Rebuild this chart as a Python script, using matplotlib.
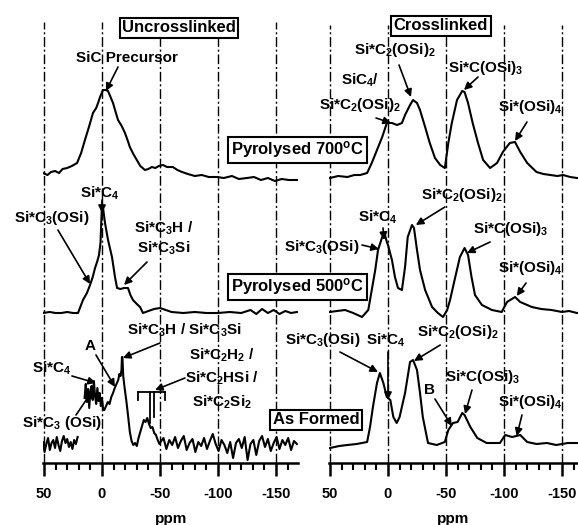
import matplotlib
matplotlib.use("Agg")
import numpy as np
import matplotlib.pyplot as plt

plt.rcParams.update({
    "font.family": ["Liberation Sans", "DejaVu Sans"],
    "font.weight": "bold",
    "mathtext.fontset": "custom",
    "mathtext.rm": "Liberation Sans:bold",
    "mathtext.it": "Liberation Sans:bold",
    "mathtext.bf": "Liberation Sans:bold",
    "mathtext.default": "rm",
})

# ---- spectra (ppm, intensity above own baseline) ---------------------------
# uncrosslinked, pyrolysed 700 C
LT_PPM = [51, 47, 44, 40.5, 37, 34, 30, 26, 21.5, 18,
          14.7, 11, 7.8, 5, 3.4, 1.7, -0.9, -3, -5.2, -7,
          -9.5, -11.5, -13.8, -17, -19.8, -22, -24, -27, -30, -33,
          -37, -40, -43, -46, -49, -52.6, -56, -61, -65, -69,
          -74, -80, -86, -92, -99, -105, -112, -118, -125, -131,
          -137, -143, -149, -155, -161, -168]
LT_INT = [5, 3, 6, 7, 5, 9, 10, 12, 15, 25,
          38, 52, 65, 70, 75, 81, 88, 88, 87, 82,
          75, 67, 58, 52, 45, 38, 31, 24, 18, 12,
          8, 9, 11, 10, 12, 13, 11, 11, 8, 6,
          4, 2, 3, 1, 1, 0, 2, -1, 0, 1,
          -2, 0, -3, -1, -2, -2]

# uncrosslinked, pyrolysed 500 C
LM_PPM = [51, 45, 40, 35, 30, 25, 20.7,
          16.4, 13, 10.3, 8, 6, 4, 2.6, 1.3, 0.5, 0,
          -0.9, -2.6, -5.2, -8.6, -11.2, -13, -16, -19, -22.4, -24.5,
          -26.7, -30, -32.8, -35.3, -40, -45, -50, -55, -60, -70,
          -80, -90, -100, -110, -120, -128, -133, -138, -143, -148,
          -153, -158, -163, -168]
LM_INT = [0, 1, 0, 0, 1, 0, 0,
          13, 20, 28, 36, 45, 52, 58, 70, 95, 110,
          105, 90, 73, 56, 36, 25, 24, 25, 25, 18,
          13, 9, 6, 0, 2, 4, 5, 3, 1, 0,
          1, 0, 0, 1, 0, 3, -1, 4, 0, 3,
          -1, 2, 0, 1]

# uncrosslinked, as formed (noisy)
LB_PPM = [51, 49.5, 48, 46.5, 45, 43.5, 42, 40.5, 39, 37.5,
          36, 34.5, 33, 31.5, 30, 28.5, 27, 25.5, 24, 22.5, 21,
          20,
          15, 14, 13, 12, 11, 10, 9, 8, 7, 6, 5, 4, 3, 2, 1, 0, -1,
          -2, -3.5, -5, -6.5, -8, -9.5, -11, -12.5, -14, -15,
          -16, -16.8, -17.2, -17.6, -18.3, -19.5, -21, -22.5, -24, -25.5,
          -27, -28.5, -30, -31.5, -33, -34.5, -36, -37.5, -39, -40.5,
          -42, -43.5, -45, -46.5, -48, -49.5, -51,
          -53, -55.5, -58, -60.5, -63, -65.5, -68, -70.5, -73, -75.5,
          -78, -80.5, -83, -85.5, -88, -90.5, -93, -95.5, -98, -100.5,
          -103, -105.5, -108, -110.5, -113, -115.5, -118, -120.5, -123, -125.5,
          -128, -130.5, -133, -135.5, -138, -140.5, -143, -145.5, -148, -150.5,
          -153, -155.5, -158, -160.5, -163, -165.5, -168]
LB_INT = [4, -6, 2, 8, -4, 3, 6, -2, 9, 1,
          -5, 5, 10, 3, 7, -1, 4, -3, 6, 2, 9,
          np.nan,
          48, 62, 44, 57, 38, 55, 60, 46, 65, 50, 42, 58, 45, 53, 40, 48, 36,
          36, 40, 44, 42, 49, 53, 58, 62, 66, 72,
          70, 76, 89, 89, 70, 58, 45, 30, 14, 5,
          1, 3, 0, 8, 14, 20, 26, 24, 28, 22,
          18, 19, 13, 11, 6, 2, 5,
          8, -3, 6, 1, 9, -2, 5, 10, -4, 3,
          7, -6, 4, 0, 8, -3, 5, 12, 2, -5,
          6, 1, -7, 4, -12, 3, 7, -2, 9, -14,
          2, 6, -9, 5, 10, -1, 7, -5, 3, 9,
          -3, 6, 1, 8, -4, 5, 2]

# crosslinked, pyrolysed 700 C
RT_PPM = [50, 43, 35, 29, 24, 18, 14, 9.5, 5, 1,
          -3.4, -7.8, -12, -14.7, -19, -21.6, -25, -27.6, -32, -36,
          -40.5, -45, -49, -52, -55, -59.5, -64, -66, -69, -73,
          -77.6, -82, -88, -94, -99, -105, -109.5, -114, -120, -128,
          -134, -140, -146, -151, -157, -163]
RT_INT = [0, 2, 1, 3, 3, 5, 15, 28, 41, 55,
          55, 53, 55, 63, 73, 78, 75, 68, 51, 35,
          20, 13, 10, 35, 55, 78, 87, 86, 75, 55,
          35, 18, 10, 15, 26, 35, 36, 26, 15, 6,
          4, 3, 2, 3, 1, 0]

# crosslinked, pyrolysed 500 C
RM_PPM = [50, 44, 37, 30, 22.4, 17, 14, 11, 8.6, 5,
          2.6, 1, 0, -3.4, -6, -8.6, -12, -14.7, -17, -20.7,
          -22.4, -25, -27.6, -32, -38, -43, -47.5, -51, -53.5, -58,
          -62, -66, -69, -72, -75, -81, -89.6, -98, -102.6, -109.5,
          -114, -124, -132, -141, -150, -156, -163]
RM_INT = [1, 2, 3, 0, -4, 3, 23, 43, 63, 76,
          78, 71, 68, 53, 36, 25, 23, 46, 76, 88,
          85, 63, 43, 23, 6, 0, -4, 3, 13, 36,
          56, 65, 58, 36, 18, 8, 3, 1, 11, 16,
          11, 6, 4, 3, 1, 2, 0]

# crosslinked, as formed
RB_PPM = [50, 42, 35, 27, 18, 15.5, 13, 9.5, 7, 4,
          1, -2, -4.6, -7.5, -10, -14.7, -19, -21.6, -25, -27.6,
          -30, -34.5, -42, -49, -52, -56, -60, -64, -66, -71,
          -77, -85, -96.5, -101, -107, -114, -120, -128, -137, -145,
          -155, -163]
RB_INT = [-2, 0, 1, 2, 4, 19, 39, 63, 73, 63,
          49, 46, 29, 23, 29, 53, 84, 86, 76, 53,
          29, 3, 1, 4, 16, 23, 24, 33, 31, 19,
          8, 3, 3, 11, 9, 11, 4, 2, 3, 1,
          3, 3]

OFFSETS = {"700": 285, "500": 150, "formed": 17}
MAJOR = [50, 0, -50, -100, -150]
MAJOR_LABELS = ["50", "0", "-50", "-100", "-150"]
MINOR = [40, 30, 20, 10, -10, -20, -30, -40, -60, -70, -80, -90,
         -110, -120, -130, -140, -160]

# stick marks for Si*C2H2 / Si*C2HSi / Si*C2Si2 (as formed, uncrosslinked)
STICK_PPM = [-31, -41.4, -44.8, -54.3]
STICK_LEN = [8, 31, 25, 8]

W, H = 578, 525
PPM_PX = 1.16
AX_BOTTOM = 463   # pixel row of x axis
fig = plt.figure(figsize=(W / 100, H / 100), dpi=100)


def make_panel(zero_px, lo, hi, top):
    x0 = zero_px - lo * PPM_PX
    x1 = zero_px - hi * PPM_PX
    ax = fig.add_axes([x0 / W, (H - AX_BOTTOM) / H, (x1 - x0) / W, AX_BOTTOM / H])
    ax.set_xlim(lo, hi)
    ax.set_ylim(0, AX_BOTTOM)
    for s in ("left", "right", "top"):
        ax.spines[s].set_visible(False)
    ax.spines["bottom"].set_linewidth(1.8)
    ax.set_yticks([])
    ax.set_xticks(MAJOR)
    ax.set_xticklabels(MAJOR_LABELS, fontsize=10.5, fontweight="bold")
    ax.set_xticks(MINOR, minor=True)
    ax.tick_params(axis="x", which="major", length=9, width=1.8, pad=8)
    ax.tick_params(axis="x", which="minor", length=5, width=1.5)
    ax.set_xlabel("ppm", fontsize=11, fontweight="bold", labelpad=8)
    ax.vlines(MAJOR, 0, top, colors="black", lw=1.0,
              linestyles=(0, (7, 2, 1.5, 2)), zorder=1)
    return ax


def trace(ax, ppm, inten, key):
    ax.plot(ppm, np.array(inten, dtype=float) + OFFSETS[key], color="black",
            lw=1.5, zorder=3)


def label(ax, x, y, s, size=11):
    ax.text(x, y, s, ha="center", va="center", fontsize=size, zorder=5,
            clip_on=False)


def arrow(ax, p0, p1):
    ax.annotate("", xy=p1, xytext=p0, annotation_clip=False,
                arrowprops=dict(arrowstyle="-|>", color="black", lw=1.2,
                                mutation_scale=11, shrinkA=0, shrinkB=0))


# ---- left: uncrosslinked ----
axl = make_panel(102, 50.5, -169, 441)
trace(axl, LT_PPM, LT_INT, "700")
trace(axl, LM_PPM, LM_INT, "500")
trace(axl, LB_PPM, LB_INT, "formed")

label(axl, -21.5, 405, "SiC Precursor")
arrow(axl, (-13.8, 396), (-3.4, 372))
label(axl, 1.7, 270, "Si*C$_4$")
arrow(axl, (0, 263), (0, 250))
label(axl, 43, 245, "Si*C$_3$(OSi)")
arrow(axl, (38, 233), (10.3, 179))
label(axl, -53.4, 235, "Si*C$_3$H /")
label(axl, -53.4, 215, "Si*C$_3$Si")
arrow(axl, (-38.8, 201), (-19, 178))

label(axl, -70.7, 133, "Si*C$_3$H / Si*C$_3$Si")
arrow(axl, (-50, 120), (-18, 105))
label(axl, 10.3, 117, "A")
arrow(axl, (5.2, 108), (-11.2, 76))
label(axl, -103.4, 108, "Si*C$_2$H$_2$ /")
label(axl, -103.4, 85, "Si*C$_2$HSi /")
label(axl, -103.4, 61, "Si*C$_2$Si$_2$")
arrow(axl, (-71.5, 85), (-45.7, 73))
label(axl, 43, 95, "Si*C$_4$")
arrow(axl, (25.9, 87), (5.2, 80))
label(axl, 34.5, 40, "Si*C$_3$ (OSi)")
arrow(axl, (22.4, 48), (7.8, 73))

axl.plot([STICK_PPM[0], STICK_PPM[-1]], [71, 71], color="black", lw=1.3)
for p, ln in zip(STICK_PPM, STICK_LEN):
    axl.plot([p, p], [71, 71 - ln], color="black", lw=1.3)

# ---- right: crosslinked ----
axr = make_panel(388, 50.5, -163.5, 438)
trace(axr, RT_PPM, RT_INT, "700")
trace(axr, RM_PPM, RM_INT, "500")
trace(axr, RB_PPM, RB_INT, "formed")

label(axr, -6, 413, "Si*C$_2$(OSi)$_2$")
arrow(axr, (-9.5, 398), (-19.8, 366))
label(axr, 24, 383, "SiC$_4$/")
label(axr, 24, 358, "Si*C$_2$(OSi)$_2$")
arrow(axr, (10.3, 345), (-2.6, 340))
label(axr, -84.5, 395, "Si*C(OSi)$_3$")
arrow(axr, (-77.6, 386), (-65.5, 373))
label(axr, -122.4, 356, "Si*(OSi)$_4$")
arrow(axr, (-119.8, 341), (-109.5, 322))

label(axr, -63.8, 268, "Si*C$_2$(OSi)$_2$")
arrow(axr, (-49, 256), (-24, 238))
label(axr, 8.6, 246, "Si*C$_4$")
arrow(axr, (4.3, 235), (3.4, 223))
label(axr, 57, 216, "Si*C$_3$(OSi)")
arrow(axr, (22.4, 218), (7.8, 214))
label(axr, -106, 234, "Si*C(OSi)$_3$")
arrow(axr, (-88, 221), (-68, 210))
label(axr, -122.4, 195, "Si*(OSi)$_4$")
arrow(axr, (-119, 180), (-111, 167))

label(axr, 56, 123, "Si*C$_3$(OSi)")
arrow(axr, (41.4, 111), (8.6, 91))
label(axr, 1.7, 123, "Si*C$_4$")
arrow(axr, (0, 111), (0, 63))
label(axr, -60, 131, "Si*C$_2$(OSi)$_2$")
arrow(axr, (-45, 118), (-22.4, 102))
label(axr, -36, 73, "B")
arrow(axr, (-40.5, 64), (-55, 37))
label(axr, -82, 86, "Si*C(OSi)$_3$")
arrow(axr, (-72.4, 73), (-66.4, 49))
label(axr, -122.4, 61, "Si*(OSi)$_4$")
arrow(axr, (-115.5, 48), (-111, 27))

# ---- boxed titles ----
BOX = dict(boxstyle="square,pad=0.15", fc="white", ec="black", lw=1.5)


def boxed(xc, yc, s):
    fig.text(xc / W, 1 - yc / H, s, ha="center", va="center", fontsize=12,
             fontweight="bold", bbox=BOX, zorder=10)


boxed(179, 28, "Uncrosslinked")
boxed(441, 26, "Crosslinked")
boxed(297.5, 150, "Pyrolysed 700$^{o}$C")
boxed(297.5, 287, "Pyrolysed 500$^{o}$C")
boxed(316, 420, "As Formed")

fig.savefig("out.png", dpi=100)
